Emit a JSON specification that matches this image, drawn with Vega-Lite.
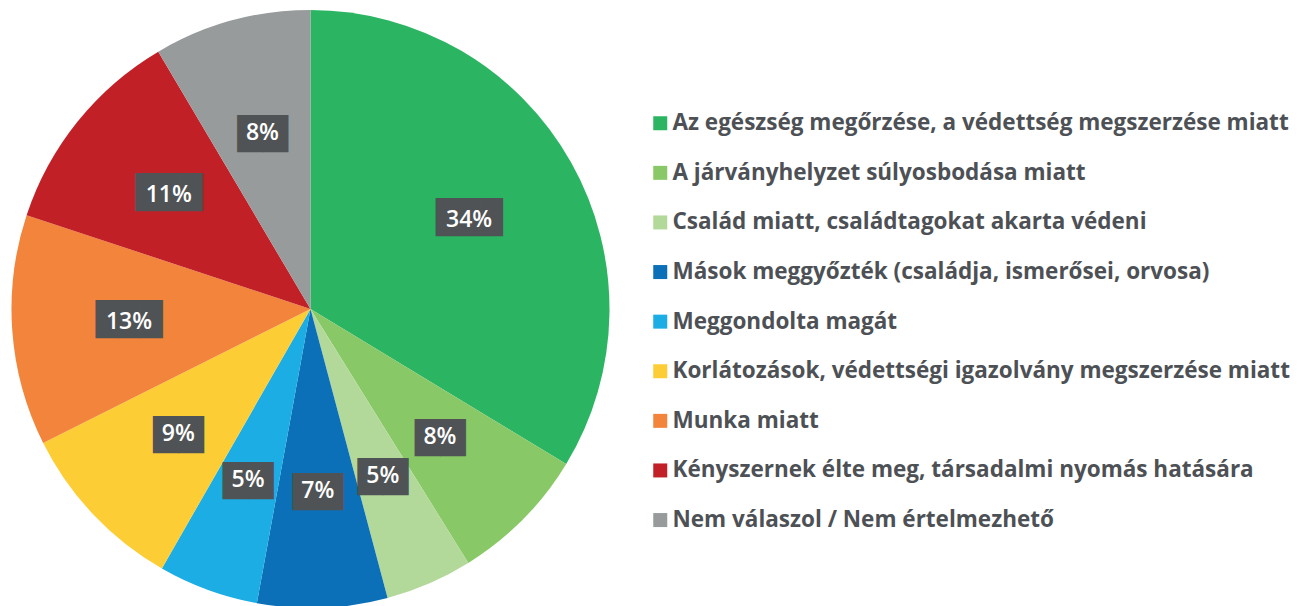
{
  "$schema": "https://vega.github.io/schema/vega-lite/v6.json",
  "width": 621,
  "height": 606,
  "autosize": {"type": "none"},
  "padding": {"left": 0, "top": 6, "right": 676, "bottom": 0},
  "background": "white",
  "config": {"view": {"stroke": null}},
  "data": {"values": [
    {"ord": 1, "cat": "Az egészség megőrzése, a védettség megszerzése miatt", "value": 33.67, "label": "34%"},
    {"ord": 2, "cat": "A járványhelyzet súlyosbodása miatt", "value": 7.48, "label": "8%"},
    {"ord": 3, "cat": "Család miatt, családtagokat akarta védeni", "value": 4.70, "label": "5%"},
    {"ord": 4, "cat": "Mások meggyőzték (családja, ismerősei, orvosa)", "value": 7.02, "label": "7%"},
    {"ord": 5, "cat": "Meggondolta magát", "value": 5.41, "label": "5%"},
    {"ord": 6, "cat": "Korlátozások, védettségi igazolvány megszerzése miatt", "value": 9.33, "label": "9%"},
    {"ord": 7, "cat": "Munka miatt", "value": 12.47, "label": "13%"},
    {"ord": 8, "cat": "Kényszernek élte meg, társadalmi nyomás hatására", "value": 11.42, "label": "11%"},
    {"ord": 9, "cat": "Nem válaszol / Nem értelmezhető", "value": 8.50, "label": "8%"}
  ]},
  "encoding": {
    "theta": {"field": "value", "type": "quantitative", "stack": true},
    "order": {"field": "ord", "type": "quantitative", "sort": "ascending"}
  },
  "layer": [
    {
      "mark": {"type": "arc", "outerRadius": 299},
      "encoding": {
        "color": {
          "field": "cat",
          "type": "nominal",
          "scale": {
            "domain": [
              "Az egészség megőrzése, a védettség megszerzése miatt",
              "A járványhelyzet súlyosbodása miatt",
              "Család miatt, családtagokat akarta védeni",
              "Mások meggyőzték (családja, ismerősei, orvosa)",
              "Meggondolta magát",
              "Korlátozások, védettségi igazolvány megszerzése miatt",
              "Munka miatt",
              "Kényszernek élte meg, társadalmi nyomás hatására",
              "Nem válaszol / Nem értelmezhető"
            ],
            "range": ["#2bb462", "#89c866", "#b3d99a", "#0b70b8", "#1badE4", "#fdcd35", "#f2843c", "#c22027", "#989b9c"]
          },
          "legend": {
            "title": null,
            "orient": "none",
            "legendX": 649,
            "legendY": 106,
            "padding": 0,
            "symbolType": "square",
            "symbolSize": 196,
            "symbolStrokeWidth": 0,
            "labelFont": "Open Sans",
            "labelFontWeight": "bold",
            "labelFontSize": 22.5,
            "labelColor": "#4d5155",
            "labelLimit": 700,
            "labelOffset": 1,
            "rowPadding": 26.6
          }
        }
      }
    },
    {
      "mark": {"type": "text", "radius": 182, "font": "DejaVu Sans Mono", "color": "#4f5355", "dy": -4},
      "encoding": {
        "text": {"condition": {"test": "length(datum.label) > 2", "value": "▇▇▇"}, "value": "▆▆"},
        "size": {"condition": {"test": "length(datum.label) > 2", "value": 37}, "value": 42}
      }
    },
    {
      "mark": {"type": "text", "radius": 182, "font": "Open Sans", "fontWeight": 600, "fontSize": 23, "color": "white"},
      "encoding": {
        "text": {"field": "label", "type": "nominal"}
      }
    }
  ]
}
